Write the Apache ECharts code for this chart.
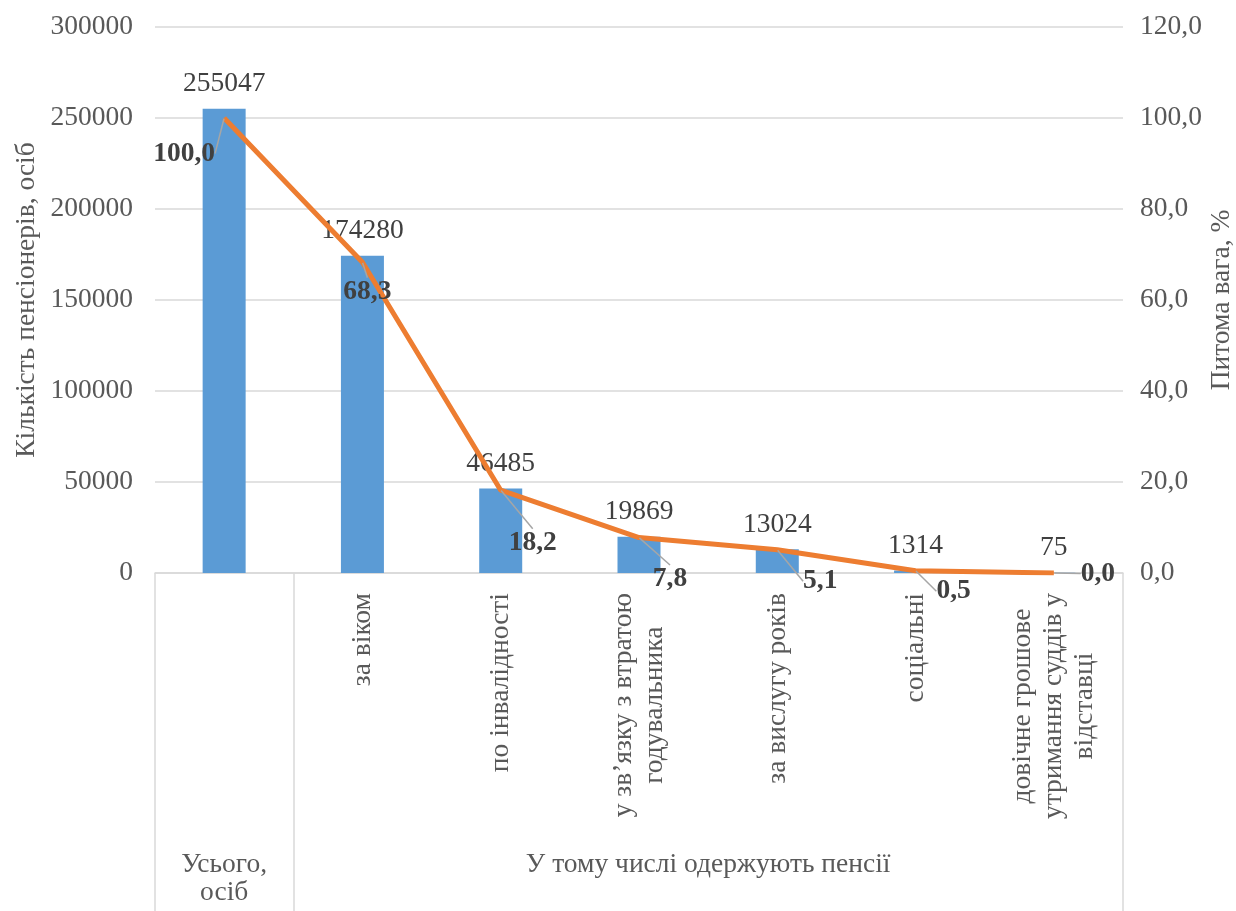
<!DOCTYPE html>
<html><head><meta charset="utf-8">
<script src="https://cdn.jsdelivr.net/npm/echarts@6/dist/echarts.min.js"></script>
<style>html,body{margin:0;padding:0;background:#fff}#c{width:1236px;height:911px}</style>
</head><body><div id="c"></div>
<script>
const categories = ['Усього, осіб', 'за віком', 'по інвалідності', 'у зв’язку з втратою годувальника', 'за вислугу років', 'соціальні', 'довічне грошове утримання суддів у відставці'];
const tickLabels = ['', 'за віком', 'по інвалідності', 'у зв’язку з втратою\nгодувальника', 'за вислугу років', 'соціальні', 'довічне грошове\nутримання суддів у\nвідставці'];
const groupLabels = ['Усього,\nосіб', 'У тому числі одержують пенсії'];
const groupCenters = [0.5, 4];
const groupBounds = [0, 1, 7];
const pensioners = [255047, 174280, 46485, 19869, 13024, 1314, 75];
const sharePct = [100.0, 68.3, 18.2, 7.8, 5.1, 0.5, 0.0];
const leftTicks = {min: 0, max: 300000, interval: 50000};
const rightTicks = {min: 0, max: 120, interval: 20};
// label displacement for line labels (style only)
const lineLabelShift = [[-40, 55], [5, 49], [32, 72], [31, 61], [43, 51], [38, 40], [44, 20]];

const FONT = "'Liberation Serif','Times New Roman',serif";
const FS = 27.5;
const chart = echarts.init(document.getElementById('c'));
chart.setOption({
  animation: false,
  textStyle: {fontFamily: FONT},
  grid: {left: 155, right: 113, top: 27, bottom: 338, containLabel: false, outerBoundsMode: 'none'},
  xAxis: [{
    type: 'category', data: categories, gridIndex: 0, position: 'bottom',
    axisLine: {show: true, lineStyle: {color: '#d9d9d9', width: 1.5}},
    axisTick: {show: false},
    axisLabel: {
      rotate: 90, margin: 20, interval: 0, color: '#595959', fontFamily: FONT, fontSize: FS,
      formatter: (v, i) => tickLabels[i] ? tickLabels[i].split('\n').map(s => '{a|' + s + '}').join('\n') : '',
      rich: {a: {align: 'center', color: '#595959', fontFamily: FONT, fontSize: FS, lineHeight: 31}}
    }
  }, {
    type: 'value', gridIndex: 0, position: 'bottom', min: 0, max: 7,
    axisLine: {show: false}, splitLine: {show: false},
    axisTick: {show: true, customValues: groupBounds, length: 340, inside: false, lineStyle: {color: '#d9d9d9', width: 1.5}},
    axisLabel: {
      customValues: groupCenters, margin: 278, verticalAlign: 'top', align: 'center',
      color: '#595959', fontFamily: FONT, fontSize: FS, lineHeight: 28,
      formatter: v => groupLabels[groupCenters.indexOf(v)] || ''
    }
  }],
  yAxis: [{
    type: 'value', min: leftTicks.min, max: leftTicks.max, interval: leftTicks.interval,
    name: 'Кількість пенсіонерів, осіб', nameLocation: 'middle', nameGap: 114, nameRotate: 90, nameMoveOverlap: false,
    nameTextStyle: {color: '#595959', fontFamily: FONT, fontSize: FS},
    axisLine: {show: false}, axisTick: {show: false},
    axisLabel: {color: '#595959', fontFamily: FONT, fontSize: FS, margin: 22, formatter: v => String(v)},
    splitLine: {lineStyle: {color: '#d9d9d9', width: 1.5}}
  }, {
    type: 'value', min: rightTicks.min, max: rightTicks.max, interval: rightTicks.interval, position: 'right',
    name: 'Питома вага, %', nameLocation: 'middle', nameGap: 85, nameRotate: 90, nameMoveOverlap: false,
    nameTextStyle: {color: '#595959', fontFamily: FONT, fontSize: FS},
    axisLine: {show: false}, axisTick: {show: false},
    axisLabel: {color: '#595959', fontFamily: FONT, fontSize: FS, margin: 17, formatter: v => v.toFixed(1).replace('.', ',')},
    splitLine: {show: false}
  }],
  series: [{
    type: 'bar', data: pensioners, xAxisIndex: 0, yAxisIndex: 0, barWidth: 43,
    itemStyle: {color: '#5b9bd5'},
    label: {show: true, position: 'top', distance: 11, color: '#404040', fontFamily: FONT, fontSize: FS}
  }, {
    type: 'line', data: sharePct, xAxisIndex: 0, yAxisIndex: 1,
    lineStyle: {color: '#ed7d31', width: 5}, itemStyle: {color: '#ed7d31'},
    symbol: 'circle', symbolSize: 1, showSymbol: true,
    label: {show: true, position: 'top', distance: 5, color: '#404040', fontFamily: FONT, fontSize: FS, fontWeight: 'bold',
      formatter: p => p.value.toFixed(1).replace('.', ',')},
    labelLine: {show: true, lineStyle: {color: '#a6a6a6', width: 1.5}},
    labelLayout: p => ({dx: lineLabelShift[p.dataIndex][0], dy: lineLabelShift[p.dataIndex][1]}),
    z: 3
  }]
});
</script></body></html>
